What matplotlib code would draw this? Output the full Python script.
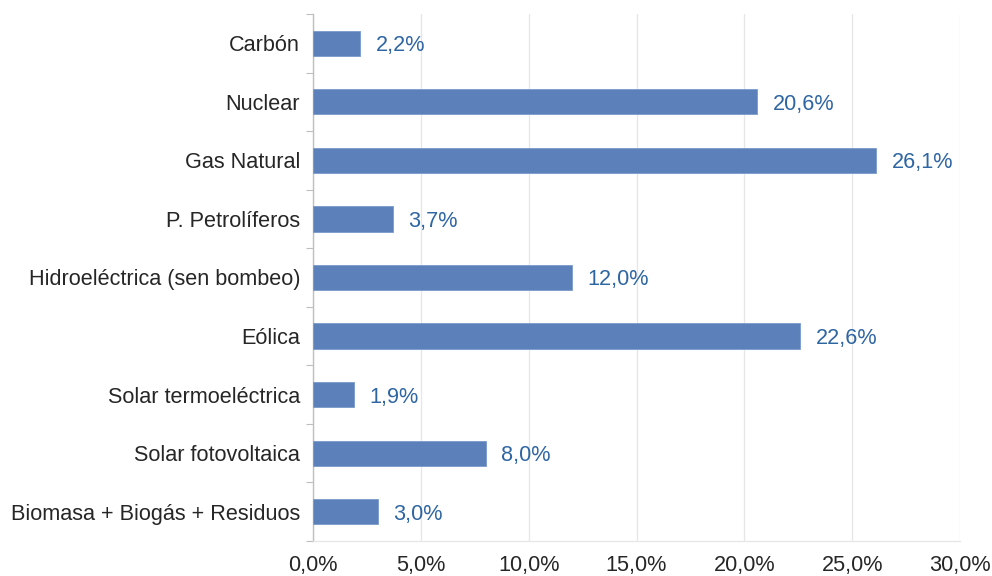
import matplotlib
matplotlib.use("Agg")
import matplotlib.pyplot as plt
from matplotlib.ticker import FuncFormatter, FixedLocator
import numpy as np

plt.rcParams['font.family'] = ['Liberation Sans', 'DejaVu Sans']

categories = ["Carbón", "Nuclear", "Gas Natural", "P. Petrolíferos",
              "Hidroeléctrica (sen bombeo)", "Eólica", "Solar termoeléctrica",
              "Solar fotovoltaica", "Biomasa + Biogás + Residuos"]
values = [2.2, 20.6, 26.1, 3.7, 12.0, 22.6, 1.9, 8.0, 3.0]
xticks = [0, 5, 10, 15, 20, 25, 30]

FS = 15.6

fig = plt.figure(figsize=(9.92, 5.76), dpi=100)
ax = fig.add_axes([313/992, 1-541/576, (960-313)/992, (541-14)/576])

y = np.arange(len(categories))
ax.barh(y, values, height=0.43, color="#5B80BA", edgecolor="#7A9ACB", linewidth=0.6, zorder=3)
for yi, v in zip(y, values):
    ax.text(v + 0.72, yi, f"{v:.1f}%".replace(".", ","), va="center_baseline", ha="left",
            color="#2E65A3", fontsize=FS)

ax.set_ylim(len(categories) - 0.5, -0.5)
ax.set_xlim(0, 30)
ax.set_yticks(y)
ax.set_yticklabels(categories, fontsize=FS, color="#262626")
ax.yaxis.set_minor_locator(FixedLocator(np.arange(-0.5, len(categories), 1)))
ax.tick_params(axis="y", which="major", length=0, pad=9.3)
ax.tick_params(axis="y", which="minor", length=5, color="#BFBFBF", width=0.8)

ax.set_xticks(xticks)
ax.xaxis.set_major_formatter(FuncFormatter(lambda x, p: f"{x:.1f}%".replace(".", ",")))
ax.tick_params(axis="x", length=0, pad=10, labelsize=FS, labelcolor="#262626")
ax.grid(axis="x", color="#E6E6E6", linewidth=0.9, zorder=0)

for s in ["top", "right"]:
    ax.spines[s].set_visible(False)
ax.spines["left"].set_color("#BFBFBF")
ax.spines["left"].set_linewidth(1.0)
ax.spines["bottom"].set_color("#E6E6E6")
ax.spines["bottom"].set_linewidth(0.9)

fig.savefig("out.png", dpi=100, facecolor="white")
